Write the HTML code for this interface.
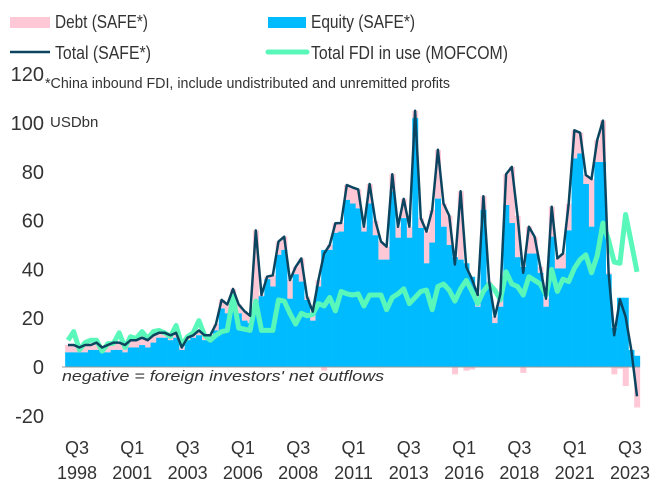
<!DOCTYPE html>
<html><head><meta charset="utf-8"><style>
html,body{margin:0;padding:0;background:#fff}
svg{display:block;font-family:"Liberation Sans",sans-serif}
</style></head><body>
<svg id="chart" width="671" height="482" viewBox="0 0 671 482">
<g id="legend" fill="#333" font-size="18">
 <g><rect x="10" y="17" width="40" height="11" fill="#ffc8d6"/><text x="55" y="28" textLength="93" lengthAdjust="spacingAndGlyphs">Debt (SAFE*)</text></g>
 <g><rect x="268" y="17" width="38" height="11" fill="#00bbff"/><text x="311" y="28" textLength="104" lengthAdjust="spacingAndGlyphs">Equity (SAFE*)</text></g>
 <g><line x1="10" y1="52" x2="50" y2="52" stroke="#0b4560" stroke-width="2.5"/><text x="55" y="59" textLength="96" lengthAdjust="spacingAndGlyphs">Total (SAFE*)</text></g>
 <g><line x1="268" y1="52" x2="307" y2="52" stroke="#5af7ba" stroke-width="5" stroke-linecap="round"/><text x="311" y="59" textLength="197" lengthAdjust="spacingAndGlyphs">Total FDI in use (MOFCOM)</text></g>
</g>
<text x="45" y="88" font-size="15" fill="#333" textLength="405" lengthAdjust="spacingAndGlyphs">*China inbound FDI, include undistributed and unremitted profits</text>
<text x="50" y="127" font-size="15" fill="#333">USDbn</text>
<g id="yaxis"></g>
<g id="bars"></g>
<line x1="62" y1="367" x2="640" y2="367" stroke="#999" stroke-width="1"/>
<path id="mofcom" fill="none" stroke="#5af7ba" stroke-width="5" stroke-linejoin="round"/>
<path id="total" fill="none" stroke="#0b4560" stroke-width="2.5" stroke-linejoin="round"/>
<text x="62" y="381" font-size="15" font-style="italic" fill="#333" textLength="322" lengthAdjust="spacingAndGlyphs">negative = foreign investors' net outflows</text>
<g id="xaxis"></g>
</svg>
<script>
const equity=[6,6,6,6,7,7,6,6,7,7,6,8,8,9,8,10,12,12,11,12,7,11,12,13,11,11,15,24,22,28,22,19,18,25,29,36,33,46,48,28,38,35,27.5,19,33,48,48,55,55.5,68.5,67,65,55.5,67,54,44,44,72,53,61,53,102,57,42.5,51,69,57.5,50,45,44,42.5,37,24.7,64.4,33,18,24.7,66.4,59,45,41,46.5,46.5,38.6,24.7,53.4,40.4,40.4,56,85.5,87.5,75,57.5,84,84,38,16,28.4,28.4,7,4.6];
const total=[9,9,8,9,9,10,8,9,10,10,9,11,11,12,11,13,14,14,13,14,8,12,13,15,13,13,17.5,27.5,25.6,32,25.6,22.9,21,56,29.5,37,37.6,51.4,53.4,35.6,41,44.5,28.8,22.7,35.6,46.5,50,58.9,59,74.6,73.6,72.8,57.5,75,60,51.4,49.3,79,57.5,68.9,57.5,105,61,55.5,64.4,89,67,62,42,72,41,36,29.5,70,35,20.6,30,79,82,62,38.6,57.5,53.4,41,28,65.7,44.5,46.5,67,97,96,78.7,77,93,101,38.6,13,27.7,20.6,7,-12];
const mofcom=[11,14.5,7,10,11,11,6.5,9.5,9.7,14,8,12.4,11.7,14.5,11.7,14.5,15,14,12.5,17,9,12.4,14,19,13,11,13,14.5,15,29,16,15.5,15,27,15,15,15,27.5,27,22,17.6,22,21,21.5,26,25,28.5,23,31,30,29.5,30,25,29.5,29.5,29.5,23.5,28.5,30,32,26,28.5,31,31.5,23.5,33,34,31.5,27,32,35.5,31,26,31,34,31.5,27.5,39,34,33,29.5,37,35.5,34,29.5,40,31,36,35,40.5,44,46,38.6,45.6,59,52,43,42.5,62.5,51,39];
const yTicks=[120,100,80,60,40,20,0,-20];
const xLabelQ=[0,10,20,30,40,50,60,70,80,90,100];
const xLabelTop=["Q3","Q1","Q3","Q1","Q3","Q1","Q3","Q1","Q3","Q1","Q3"];
const xLabelBottom=["1998","2001","2003","2006","2008","2011","2013","2016","2018","2021","2023"];
const NS="http://www.w3.org/2000/svg";
const step=5.69;
function xs(i){return 68+step*i;}
function ys(v){return 367-v*2.44;}
function xl(i){return 77+5.53*i;}
const bars=document.getElementById('bars');
for(let i=0;i<equity.length;i++){
 const e=equity[i], d=total[i]-equity[i];
 const r=document.createElementNS(NS,'rect');
 
 
 r.setAttribute('x',xs(i)-step/2);r.setAttribute('width',step+0.3);
 r.setAttribute('y',Math.min(ys(e),ys(0)));r.setAttribute('height',Math.abs(ys(e)-ys(0)));
 r.setAttribute('fill','#00bbff');bars.appendChild(r);
 const p=document.createElementNS(NS,'rect');
 
 
 p.setAttribute('x',xs(i)-step/2);p.setAttribute('width',step+0.3);
 if(d>=0){p.setAttribute('y',ys(e+d));p.setAttribute('height',ys(e)-ys(e+d));}
 else{p.setAttribute('y',ys(0));p.setAttribute('height',ys(d)-ys(0));}
 p.setAttribute('fill','#ffc8d6');bars.insertBefore(p,bars.firstChild);
}
document.getElementById('total').setAttribute('d',total.map((v,i)=>(i?'L':'M')+xs(i).toFixed(1)+' '+ys(v).toFixed(1)).join(''));
document.getElementById('mofcom').setAttribute('d',mofcom.map((v,i)=>(i?'L':'M')+xs(i).toFixed(1)+' '+ys(v).toFixed(1)).join(''));
const ya=document.getElementById('yaxis');
yTicks.forEach(t=>{
 const tx=document.createElementNS(NS,'text');
 
 
 tx.setAttribute('x',44);tx.setAttribute('y',ys(t)+7);tx.setAttribute('text-anchor','end');
 tx.setAttribute('font-size','20');tx.setAttribute('fill','#333');tx.textContent=t;ya.appendChild(tx);
});
const xa=document.getElementById('xaxis');
xLabelQ.forEach((q,k)=>{
 [[xLabelTop[k],454],[xLabelBottom[k],479]].forEach(([s,y])=>{
  const tx=document.createElementNS(NS,'text');
  
  
  tx.setAttribute('x',xl(q));tx.setAttribute('y',y);tx.setAttribute('text-anchor','middle');
  tx.setAttribute('font-size','18');tx.setAttribute('fill','#333');tx.textContent=s;xa.appendChild(tx);
 });
});
</script>
</body></html>
